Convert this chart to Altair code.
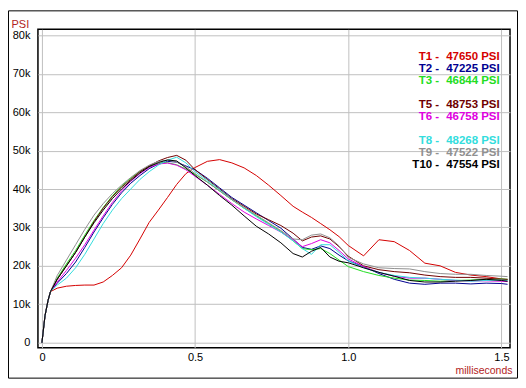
import altair as alt
import pandas as pd

# time axis (milliseconds) shared by all traces
t_ms = [0, 0.01, 0.02, 0.028,
        0.05, 0.08, 0.11, 0.14, 0.17, 0.20, 0.23, 0.26, 0.29, 0.32, 0.35, 0.38, 0.41, 0.44, 0.47, 0.50,
        0.54, 0.58, 0.62, 0.66, 0.70, 0.74, 0.78, 0.82,
        0.85, 0.88, 0.91, 0.94, 0.97, 1.00,
        1.05, 1.10, 1.15, 1.20, 1.25, 1.30, 1.35, 1.40, 1.45, 1.50, 1.52]

# pressure traces in kPSI
p_t1 = [0, 7, 11, 13.3,
        14.2, 14.7, 14.9, 15.0, 15.0, 15.8, 17.5, 19.5, 22.8, 27.0, 31.3, 34.5, 37.8, 41.2, 44.0, 45.6,
        47.2, 47.65, 46.8, 45.5, 43.5, 41.0, 38.3, 35.5,
        34.0, 32.6, 31.0, 29.4, 27.6, 25.3,
        22.6, 26.8, 26.3, 24.0, 20.7, 20.0, 18.3, 17.6, 17.2, 16.6, 16.4]
p_t2 = [0, 7, 11, 13.3,
        15.5, 18.0, 21.0, 24.8, 28.8, 32.5, 36.0, 39.0, 41.5, 43.5, 45.3, 46.5, 47.2, 47.0, 46.0, 45.0,
        42.8, 40.3, 37.8, 35.8, 33.8, 31.8, 29.8, 27.0,
        24.8, 24.3, 25.2, 24.5, 22.8, 21.3,
        19.8, 18.0, 16.5, 15.5, 15.2, 15.5, 15.5, 15.3, 15.5, 15.4, 15.2]
p_t3 = [0, 7, 11, 13.3,
        16.8, 20.5, 24.0, 28.0, 31.8, 35.2, 38.2, 40.8, 42.8, 44.6, 45.9, 46.7, 46.84, 46.3, 45.2, 43.8,
        41.8, 39.5, 37.2, 35.0, 33.0, 31.0, 29.0, 26.5,
        24.5, 24.2, 24.5, 23.2, 21.5, 19.8,
        18.5, 17.5, 16.8, 16.3, 16.2, 16.0, 16.2, 16.3, 16.5, 16.6, 16.5]
p_t5 = [0, 7, 11, 13.3,
        16.5, 20.0, 23.5, 27.5, 31.5, 35.0, 38.0, 40.5, 42.5, 44.5, 46.0, 47.3, 48.2, 48.75, 47.5, 45.0,
        42.5, 40.0, 37.5, 35.5, 33.5, 32.0, 30.5, 28.5,
        26.5, 27.5, 27.8, 27.0, 25.0, 22.5,
        20.0, 19.0, 18.5, 18.2, 17.6, 17.2, 17.0, 17.0, 16.8, 16.5, 16.5]
p_t6 = [0, 7, 11, 13.3,
        15.8, 18.8, 22.0, 25.5, 29.3, 33.0, 36.5, 39.5, 42.0, 44.0, 45.6, 46.5, 46.76, 46.2, 45.0, 43.3,
        41.0, 38.6, 36.2, 34.0, 32.2, 30.5, 28.8, 26.8,
        25.0, 25.8, 26.8, 26.0, 24.0, 21.8,
        19.8, 18.3, 17.3, 16.8, 16.8, 16.5, 16.2, 16.1, 16.1, 16.0, 15.9]
p_t8 = [0, 7, 11, 13.3,
        15.0, 16.8, 19.5, 23.0, 27.0, 31.0, 34.5, 37.5, 40.0, 42.5, 44.5, 46.2, 47.5, 48.27, 46.8, 44.5,
        42.2, 39.8, 37.3, 35.0, 32.8, 30.8, 28.8, 26.5,
        24.5, 23.0, 25.5, 25.5, 23.5, 21.3,
        19.5, 18.3, 17.5, 17.0, 16.8, 16.5, 16.3, 16.0, 16.2, 16.3, 16.2]
p_t9 = [0, 7, 11, 13.3,
        17.5, 21.5, 25.5, 29.5, 33.2, 36.2, 38.8, 41.0, 43.0, 44.8, 46.2, 47.2, 47.52, 47.0, 45.8, 44.0,
        41.8, 39.5, 37.2, 35.2, 33.2, 31.2, 29.2, 27.0,
        26.8, 28.0, 28.3, 27.3, 25.2, 22.2,
        20.5, 19.5, 19.3, 19.2, 18.5, 18.0, 17.8, 17.8, 17.5, 17.3, 17.2]
p_t10 = [0, 7, 11, 13.3,
         16.5, 20.0, 23.5, 27.5, 31.2, 34.5, 37.5, 40.0, 42.2, 44.2, 45.8, 46.9, 47.55, 47.3, 45.5, 43.5,
         41.0, 38.3, 35.8, 33.0, 30.3, 28.3, 26.0, 23.2,
         22.3, 23.8, 24.8, 22.3, 21.2, 20.8,
         19.5, 18.3, 17.3, 16.2, 15.8, 15.8, 16.0, 16.2, 16.5, 16.2, 16.0]

names = ["T1", "T2", "T3", "T5", "T6", "T8", "T9", "T10"]
peaks = [47650, 47225, 46844, 48753, 46758, 48268, 47522, 47554]
slots = [1, 2, 3, 5, 6, 8, 9, 10]
colors = ["#d40000", "#000090", "#22dd22", "#700000", "#e000e0", "#33dddd", "#909090", "#000000"]

series = [p_t1, p_t2, p_t3, p_t5, p_t6, p_t8, p_t9, p_t10]
rows = []
for name, vals in zip(names, series):
    for t, v in zip(t_ms, vals):
        rows.append({"name": name, "t": t, "psi": v * 1000})
df = pd.DataFrame(rows)

leg = pd.DataFrame({
    "name": names,
    "slot": slots,
    "label": [n + " -" for n in names],
    "value": [f"{p} PSI" for p in peaks],
})

FONT = "Liberation Sans"
color_scale = alt.Scale(domain=names, range=colors)

xs = alt.Scale(domain=[-0.013, 1.528], nice=False, zero=False)
ys = alt.Scale(domain=[-1300, 81560], nice=False, zero=False)

lines = alt.Chart(df).mark_line(strokeWidth=1, clip=True).encode(
    x=alt.X("t:Q", scale=xs,
            axis=alt.Axis(values=[0, 0.5, 1.0, 1.5],
                          labelExpr="datum.value == 0 ? '0' : format(datum.value, '.1f')",
                          title="milliseconds", titleX=475, titleY=26, titleAlign="right",
                          titleBaseline="alphabetic", titleColor="#b22222", titleFontWeight="normal",
                          titleFontSize=10.5, titleFont=FONT,
                          labelPadding=4, labelFlush=False)),
    y=alt.Y("psi:Q", scale=ys,
            axis=alt.Axis(values=[0, 10000, 20000, 30000, 40000, 50000, 60000, 70000, 80000],
                          labelExpr="datum.value == 0 ? '0' : (datum.value / 1000) + 'k'",
                          title="PSI", titleAngle=0, titleX=-27, titleY=-2, titleAlign="left",
                          titleBaseline="alphabetic", titleColor="#b22222", titleFontWeight="normal",
                          titleFontSize=11, titleFont=FONT,
                          labelPadding=8)),
    color=alt.Color("name:N", scale=color_scale, legend=None),
    detail="name:N",
    order=alt.Order("t:Q"),
)

leg_label = alt.Chart(leg).transform_calculate(
    ypix="28 + 12 * (datum.slot - 1)"
).mark_text(align="right", baseline="middle", font=FONT, fontSize=11.5, fontWeight="bold").encode(
    x=alt.value(402),
    y=alt.Y("ypix:Q", scale=None),
    text="label:N",
    color=alt.Color("name:N", scale=color_scale, legend=None),
)

leg_value = alt.Chart(leg).transform_calculate(
    ypix="28 + 12 * (datum.slot - 1)"
).mark_text(align="left", baseline="middle", font=FONT, fontSize=11.5, fontWeight="bold").encode(
    x=alt.value(409),
    y=alt.Y("ypix:Q", scale=None),
    text="value:N",
    color=alt.Color("name:N", scale=color_scale, legend=None),
)

outer = alt.Chart(pd.DataFrame({"k": [0]})).mark_rect(
    fill=None, stroke="black", strokeWidth=1, clip=False
).encode(
    x=alt.value(-29.5), x2=alt.value(480.5), y=alt.value(-18.5), y2=alt.value(349.5)
)

chart = alt.layer(outer, lines, leg_label, leg_value).properties(
    width=473, height=319,
    autosize=alt.AutoSizeParams(type="none"),
    padding={"left": 30, "top": 21, "right": 8, "bottom": 31},
).configure_view(
    stroke="black", strokeWidth=1.5
).configure_axis(
    grid=True, gridColor="#c0c0c0", gridWidth=1, domain=False, ticks=False, tickSize=0,
    labelFont=FONT, labelFontSize=11, labelColor="#000000",
)

chart.save("out.html", embed_options={"renderer": "svg", "actions": False})
